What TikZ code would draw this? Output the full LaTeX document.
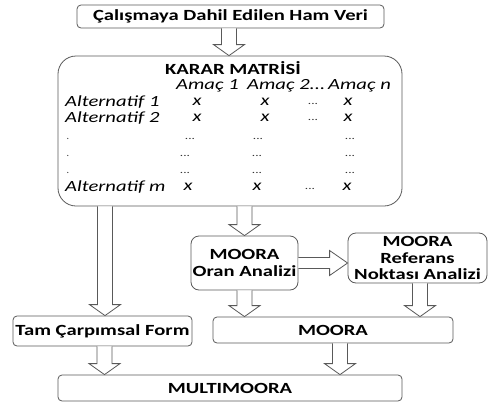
\documentclass[tikz,border=0pt]{standalone}
\usepackage{fontspec}
\setmainfont{Carlito}
\usetikzlibrary{calc}
\newcommand\wide[1]{\scalebox{1.33}[1]{#1}}
\newcommand\widei[1]{\scalebox{1.33}[1]{#1}}
\tikzset{
  box/.style={draw=black!65, line width=0.8pt, rounded corners=4pt, inner sep=0pt,
    font=\bfseries\fontsize{15.5}{16.5}\selectfont, align=center},
  blk/.style={draw=black!65, line width=0.8pt, fill=white, line join=miter},
  it/.style={font=\itshape\fontsize{15.5}{16}\selectfont, inner sep=0pt},
  dt/.style={font=\fontsize{10}{12}\selectfont, inner sep=0pt, text=black!80},
}
\newcommand\vblock[2]{\draw[blk] let \p1=#1, \p2=#2 in
  (\x1-7.5pt,\y1) -- (\x1-7.5pt,\y2+11pt) -- (\x1-15.5pt,\y2+11pt) -- (\x1,\y2)
  -- (\x1+15.5pt,\y2+11pt) -- (\x1+7.5pt,\y2+11pt) -- (\x1+7.5pt,\y1);}
\newcommand\hblock[2]{\draw[blk] let \p1=#1, \p2=#2 in
  (\x1,\y1+5.5pt) -- (\x2-18pt,\y1+5.5pt) -- (\x2-18pt,\y1+12.5pt) -- (\x2,\y1)
  -- (\x2-18pt,\y1-12.5pt) -- (\x2-18pt,\y1-5.5pt) -- (\x1,\y1-5.5pt);}
\begin{document}
\begin{tikzpicture}[x=1pt,y=-1pt]
\useasboundingbox (0,0) rectangle (488,405);
% boxes
\node[box, minimum width=307pt, minimum height=23pt] (top) at (230.5,16.5) {\wide{Çalışmaya Dahil Edilen Ham Veri}};
\node[box, rounded corners=18pt, minimum width=344pt, minimum height=150pt] (mat) at (230,131) {};
\node[box, minimum width=179pt, minimum height=30pt] (tam) at (102.5,331) {\wide{Tam Çarpımsal Form}};
\node[box, rounded corners=8pt, minimum width=107pt, minimum height=54pt] (oran) at (244.5,263) {\wide{MOORA}\\\wide{Oran Analizi}};
\node[box, rounded corners=8pt, minimum width=139pt, minimum height=50pt] (ref) at (417.5,258) {\wide{MOORA}\\\wide{Referans}\\\wide{Noktası Analizi}};
\node[box, minimum width=240pt, minimum height=26pt] (moora) at (333,330) {\wide{MOORA}};
\node[box, minimum width=344pt, minimum height=26pt] (multi) at (230,388) {\wide{MULTIMOORA}};
% matrix contents
\node[inner sep=0pt, font=\bfseries\fontsize{15.5}{16}\selectfont] (title) at (233,68) {\wide{KARAR MATRİSİ}};
\node[it, anchor=west] (h1) at (176,86) {\widei{Amaç 1}};
\node[it, anchor=west] (h2) at (247,86) {\widei{Amaç 2...}};
\node[it, anchor=west] (h3) at (328,86) {\widei{Amaç n}};
\node[it, anchor=west] (r1) at (65,102) {\widei{Alternatif 1}};
\node[it, anchor=west] (r2) at (65,118) {\widei{Alternatif 2}};
\node[it, anchor=west] (rm) at (65,187) {\widei{Alternatif m}};
\node[it] (a11) at (197,102) {\widei{x}};
\node[it] (a12) at (265,102) {\widei{x}};
\node[dt] (a13) at (313,104) {\wide{...}};
\node[it] (a14) at (348,102) {\widei{x}};
\node[it] (a21) at (197,118) {\widei{x}};
\node[it] (a22) at (265,118) {\widei{x}};
\node[dt] (a23) at (313,120) {\wide{...}};
\node[it] (a24) at (348,118) {\widei{x}};
\node[dt] (d1) at (68,139) {.};
\node[dt] (d11) at (190,139) {\wide{...}};
\node[dt] (d12) at (258,139) {\wide{...}};
\node[dt] (d13) at (350,139) {\wide{...}};
\node[dt] (d2) at (68,156) {.};
\node[dt] (d21) at (185,156) {\wide{...}};
\node[dt] (d22) at (257,156) {\wide{...}};
\node[dt] (d23) at (350,156) {\wide{...}};
\node[dt] (d3) at (68,173) {.};
\node[dt] (d31) at (185,173) {\wide{...}};
\node[dt] (d32) at (257,173) {\wide{...}};
\node[dt] (d33) at (350,173) {\wide{...}};
\node[it] (am1) at (188,187) {\widei{x}};
\node[it] (am2) at (257,187) {\widei{x}};
\node[dt] (am3) at (310,189) {\wide{...}};
\node[it] (am4) at (347,187) {\widei{x}};
% arrows
\vblock{($(top.south)+(-1.5,0)$)}{(mat.north)}
\vblock{($(mat.south -| tam.north)+(2.5,0)$)}{(tam.north)}
\vblock{(oran.north |- mat.south)}{(oran.north)}
\hblock{(oran.east)}{(ref.west)}
\vblock{(oran.south)}{(moora.north)}
\vblock{($(ref.south)+(2.5,0)$)}{(moora.north)}
\vblock{($(tam.south)+(2,0)$)}{(multi.north)}
\vblock{($(moora.south)+(7,0)$)}{(multi.north)}
\end{tikzpicture}
\end{document}
